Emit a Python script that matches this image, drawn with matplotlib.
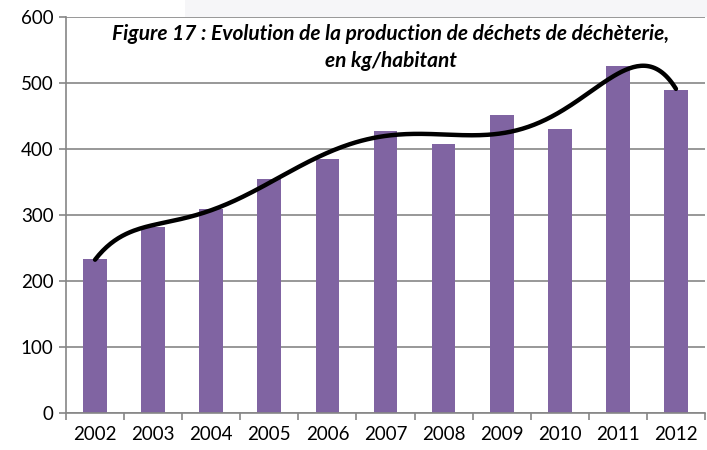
import numpy as np
import matplotlib
matplotlib.use("Agg")
import matplotlib.pyplot as plt
from matplotlib.patches import Rectangle

years = ["2002", "2003", "2004", "2005", "2006", "2007", "2008", "2009", "2010", "2011", "2012"]
values = [233, 282, 309, 354, 385, 427, 408, 451, 430, 526, 489]
yticks = [0, 100, 200, 300, 400, 500, 600]
title = "Figure 17 : Evolution de la production de déchets de déchèterie,\nen kg/habitant"

plt.rcParams['font.family'] = ['Lato', 'DejaVu Sans']

fig = plt.figure(figsize=(7.07, 4.5), dpi=100)
fig.patches.append(Rectangle((185/707, 1-17/450), 1-185/707, 17/450, transform=fig.transFigure,
                             facecolor="#F6F6F8", edgecolor="none", zorder=0))
ax = fig.add_axes([66/707, 1-413/450, 639/707, 396/450])

x = np.arange(len(years))
ax.bar(x, values, width=0.41, color="#8064A2", zorder=2)

# polynomial trendline (order 6) computed from the bar values
xs = np.linspace(0, len(years)-1, 300)
coef = np.polyfit(x + 1, values, 6)
ax.plot(xs, np.polyval(coef, xs + 1), color="black", lw=3.2, solid_capstyle="round", zorder=3)

ax.set_xlim(-0.5, len(years)-0.5)
ax.set_ylim(0, 600)
ax.set_yticks(yticks)
ax.set_xticks(x)
ax.set_xticklabels(years)
ax.set_xticks(np.arange(-0.5, len(years), 1), minor=True)
ax.tick_params(axis="x", which="major", length=0, labelsize=13.5, pad=9)
ax.tick_params(axis="x", which="minor", length=5, color="#868686", width=1.2)
ax.tick_params(axis="y", length=5, color="#868686", width=1.2, labelsize=13.5, pad=4)
ax.yaxis.grid(True, color="#868686", lw=1.2, zorder=1)
ax.set_axisbelow(True)
for s in ["top", "right"]:
    ax.spines[s].set_visible(False)
for s in ["left", "bottom"]:
    ax.spines[s].set_color("#868686")
    ax.spines[s].set_linewidth(1.2)

ax.text(0.508, (413-24)/396, title, transform=ax.transAxes, ha="center", va="top",
        fontsize=15, fontweight="bold", fontstyle="italic", linespacing=1.42)

fig.savefig("out.png", dpi=100)
